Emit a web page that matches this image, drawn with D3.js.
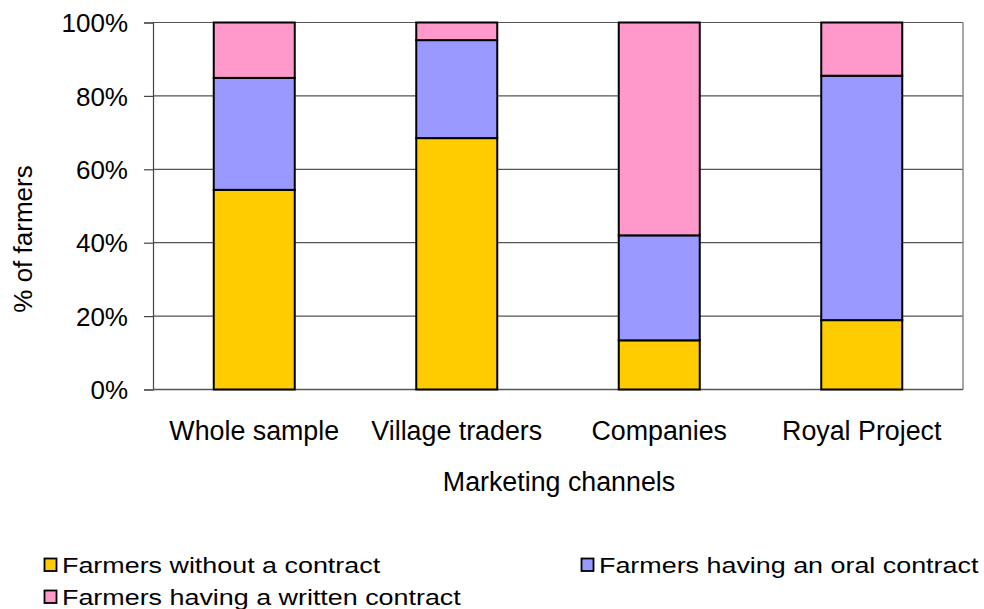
<!DOCTYPE html>
<html>
<head>
<meta charset="utf-8">
<script src="https://cdn.jsdelivr.net/npm/d3@7"></script>
<style>
  html, body { margin: 0; padding: 0; background: #fff; }
  svg text { font-family: "Liberation Sans", Arial, sans-serif; fill: #000; }
</style>
</head>
<body>
<svg id="chart" width="984" height="609"></svg>
<script>
// Share of farmers by contract type, per marketing channel (%)
const categories = ["Whole sample", "Village traders", "Companies", "Royal Project"];
const seriesNames = ["Farmers without a contract", "Farmers having an oral contract", "Farmers having a written contract"];
const noContract = [54.4, 68.5, 13.4, 18.9];
const oralContract = [30.5, 26.7, 28.6, 66.6];
const writtenContract = [15.1, 4.8, 58.0, 14.5];
const yTicks = [0, 20, 40, 60, 80, 100];
const colors = ["#FFCC00", "#9999FF", "#FF99CC"];

const svg = d3.select("#chart");
const plot = { left: 153, right: 963, top: 22.5, bottom: 389.5 };

const x = d3.scaleBand().domain(categories)
  .range([plot.left, plot.right]).paddingInner(0.6).paddingOuter(0.3);
const y = d3.scaleLinear().domain([0, 100]).range([plot.bottom, plot.top]);

// Gridlines
svg.append("g").selectAll("line").data(yTicks.filter(d => d > 0)).join("line")
  .attr("x1", plot.left).attr("x2", plot.right)
  .attr("y1", d => y(d)).attr("y2", d => y(d))
  .attr("stroke", "#555").attr("stroke-width", 1.2);

// Plot area right border
svg.append("line").attr("x1", plot.right).attr("x2", plot.right)
  .attr("y1", plot.top).attr("y2", plot.bottom)
  .attr("stroke", "#888").attr("stroke-width", 1.5);

// Y axis
const yAxis = d3.axisLeft(y).tickValues(yTicks).tickFormat(d => d + "%").tickSize(9).tickPadding(16);
const gy = svg.append("g").attr("transform", `translate(${plot.left},0)`).call(yAxis);
gy.select(".domain").attr("stroke", "#444").attr("stroke-width", 1.2);
gy.selectAll(".tick line").attr("stroke", "#444").attr("stroke-width", 1.2);
gy.selectAll(".tick text").attr("font-size", 26).attr("font-family", "Liberation Sans, Arial, sans-serif").attr("fill", "#000").attr("dy", "0.35em");

// X axis baseline
svg.append("line").attr("x1", plot.left).attr("x2", plot.right)
  .attr("y1", plot.bottom).attr("y2", plot.bottom)
  .attr("stroke", "#555").attr("stroke-width", 1.5);

// Stacked bars
const table = categories.map((c, i) => ({
  category: c,
  s0: noContract[i], s1: oralContract[i], s2: writtenContract[i]
}));
const stack = d3.stack().keys(["s0", "s1", "s2"]);
const layers = stack(table);

svg.append("g").selectAll("g").data(layers).join("g")
  .attr("fill", (d, i) => colors[i])
  .selectAll("rect").data(d => d).join("rect")
  .attr("x", d => x(d.data.category))
  .attr("width", x.bandwidth())
  .attr("y", d => y(d[1]))
  .attr("height", d => y(d[0]) - y(d[1]))
  .attr("stroke", "#000").attr("stroke-width", 2);

// Category labels
svg.append("g").selectAll("text").data(categories).join("text")
  .attr("x", d => x(d) + x.bandwidth() / 2)
  .attr("y", 439.5)
  .attr("text-anchor", "middle").attr("font-size", 26.8)
  .text(d => d);

// Axis titles
svg.append("text").attr("x", (plot.left + plot.right) / 2 + 1).attr("y", 491)
  .attr("text-anchor", "middle").attr("font-size", 26.8).text("Marketing channels");
svg.append("text")
  .attr("transform", `translate(32,239) rotate(-90)`)
  .attr("text-anchor", "middle").attr("font-size", 26).text("% of farmers");

// Legend (text is drawn slightly widened)
const legendPos = [[44, 558], [581, 558], [44, 590]];
const lg = svg.append("g").selectAll("g").data(seriesNames).join("g")
  .attr("transform", (d, i) => `translate(${legendPos[i][0]},${legendPos[i][1]})`);
lg.append("rect").attr("x", 0.5).attr("y", 0.5).attr("width", 12).attr("height", 12.5)
  .attr("fill", (d, i) => colors[i]).attr("stroke", "#000").attr("stroke-width", 1.8);
lg.append("text")
  .attr("transform", "translate(18,15.3) scale(1.2,1)")
  .attr("font-size", 22.4).text(d => d);
</script>
</body>
</html>
